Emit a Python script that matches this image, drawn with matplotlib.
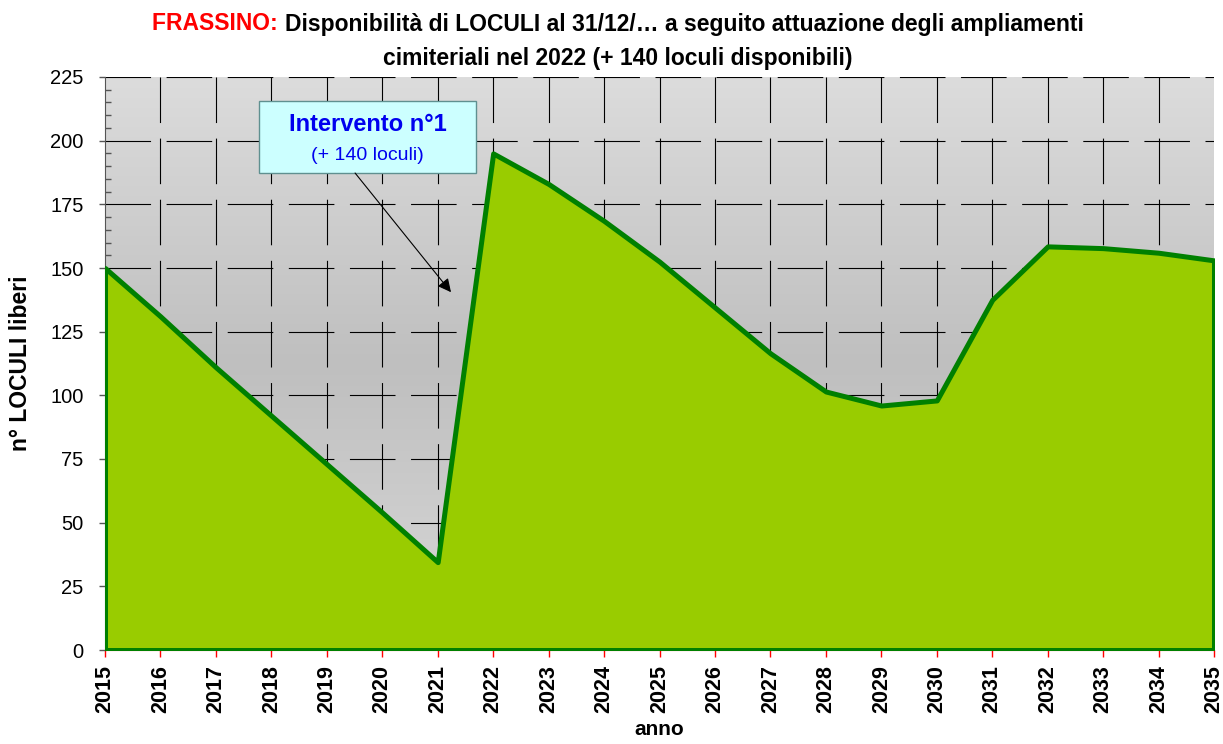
import numpy as np
import matplotlib.pyplot as plt
from matplotlib.colors import LinearSegmentedColormap
from matplotlib.patches import Rectangle

# dati
anni = list(range(2015, 2036))
loculi_liberi = [150, 131, 111, 92, 73, 54, 34.5, 195, 183, 168.5, 152.5,
                 134.5, 116.5, 101.5, 96, 98, 137.5, 158.5, 157.8, 156, 153]
y_ticks = list(range(0, 226, 25))

titolo_rosso = 'FRASSINO: '
titolo_1 = 'Disponibilità di LOCULI al 31/12/… a seguito attuazione degli ampliamenti'
titolo_2 = 'cimiteriali nel 2022 (+ 140 loculi disponibili)'

plt.rcParams['font.family'] = ['Liberation Sans', 'DejaVu Sans']

W, H = 1223, 744
fig = plt.figure(figsize=(W / 100, H / 100), dpi=100)
ax = fig.add_axes([105 / W, 1 - 650 / H, 1109 / W, 573 / H])

# sfondo sfumato grigio
grad = LinearSegmentedColormap.from_list(
    'bg', [(0, '#dcdcdc'), (0.5, '#bfbfbf'), (1, '#d9d9d9')])
ax.imshow(np.linspace(0, 1, 256).reshape(-1, 1), cmap=grad, aspect='auto',
          extent=[0, 1, 0, 1], transform=ax.transAxes, zorder=0)

ax.set_xlim(2015, 2035)
ax.set_ylim(0, 225)

# griglia tratteggiata
for a in anni[1:-1]:
    ax.axvline(a, ymin=1, ymax=0, color='black', lw=0.8,
               dashes=(41, 14), zorder=1)
for v in y_ticks[1:]:
    ax.axhline(v, color='black', lw=0.8, dashes=(41, 14), zorder=1)

ax.fill_between(anni, loculi_liberi, 0, facecolor='#99cc00',
                edgecolor='#008000', linewidth=3.6, joinstyle='round', zorder=3)

ax.set_xticks(anni)
ax.set_xticklabels([str(a) for a in anni], rotation=90, fontsize=15.5,
                   fontweight='bold')
ax.set_yticks(y_ticks)
ax.set_yticklabels([str(v) for v in y_ticks], fontsize=14.5)
ax.set_yticks(range(0, 226, 5), minor=True)
ax.tick_params(axis='x', colors='red', length=5, width=1, pad=6,
               labelcolor='black')
ax.tick_params(axis='y', which='major', color='#555555', length=4.5, width=1,
               direction='out', pad=11)
ax.tick_params(axis='y', which='minor', color='#555555', length=4, width=1,
               direction='in')

for s in ['top', 'right']:
    ax.spines[s].set_visible(False)
ax.spines['left'].set_color('#555555')
ax.spines['bottom'].set_color('red')

ax.set_xlabel('anno', fontsize=15, fontweight='bold', labelpad=5)
ax.set_ylabel('n° LOCULI liberi', fontsize=16.5, fontweight='bold', labelpad=13)

# titolo su due righe, "FRASSINO:" in rosso
r = fig.canvas.get_renderer()
tmp = fig.text(0, 0, titolo_rosso + titolo_1, fontsize=16.5, fontweight='bold')
w_tot = tmp.get_window_extent(r).width
tmp.remove()
tmp = fig.text(0, 0, titolo_rosso, fontsize=16.5, fontweight='bold')
w_rosso = tmp.get_window_extent(r).width
tmp.remove()
x0 = (618 - w_tot / 2) / W
fig.text(x0, 1 - 24 / H, titolo_rosso, color='red', fontsize=16.5,
         fontweight='bold', ha='left', va='center')
fig.text(x0 + w_rosso / W, 1 - 24 / H, titolo_1, color='black', fontsize=16.5,
         fontweight='bold', ha='left', va='center')
fig.text(618 / W, 1 - 58 / H, titolo_2, color='black',
         fontsize=16.5, fontweight='bold', ha='center', va='center')

# riquadro intervento
ax.add_patch(Rectangle((2017.78, 187.3), 3.91, 28.2, facecolor='#ccffff',
                       edgecolor='#5f9090', linewidth=1, zorder=5))
ax.text(2019.735, 206.2, 'Intervento n°1', color='#0000ee', fontsize=17,
        fontweight='bold', ha='center', va='center', zorder=6)
ax.text(2019.735, 194.3, '(+ 140 loculi)', color='#0000ee', fontsize=14,
        ha='center', va='center', zorder=6)
ax.annotate('', xy=(2021.24, 140.5), xytext=(2019.51, 187.3),
            arrowprops=dict(arrowstyle='-|>', color='black', lw=0.8,
                            mutation_scale=20, shrinkA=0, shrinkB=0),
            zorder=6)

fig.savefig('out.png', dpi=100)
